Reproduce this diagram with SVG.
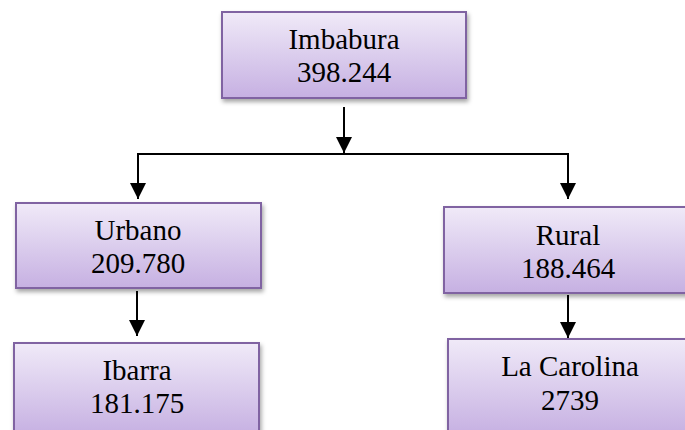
<svg xmlns="http://www.w3.org/2000/svg" width="685" height="430" viewBox="0 0 685 430">
  <style>
    .box { fill: url(#grad); stroke: #8064a2; stroke-width: 2; filter: url(#shadow); }
    .lbl { font-family: 'Liberation Serif', Tinos, 'Times New Roman', 'DejaVu Serif', serif; font-size: 29px; fill: #000; text-anchor: middle; }
    .conn { stroke: #000; stroke-width: 2; fill: none; }
  </style>
  <defs>
    <linearGradient id="grad" x1="0" y1="0" x2="0" y2="1">
      <stop offset="0" stop-color="#f0eaf8"/>
      <stop offset="1" stop-color="#c6b0e2"/>
    </linearGradient>
    <filter id="shadow" x="-10%" y="-10%" width="130%" height="140%">
      <feDropShadow dx="1.5" dy="3" stdDeviation="2" flood-color="#000" flood-opacity="0.35"/>
    </filter>
    <marker id="arrow" viewBox="0 0 10 10" refX="10" refY="5" markerWidth="16" markerHeight="16" markerUnits="userSpaceOnUse" orient="auto">
      <path d="M0,0 L10,5 L0,10 z" fill="#000"/>
    </marker>
  </defs>

  <g id="connectors">
    <line class="conn" x1="344" y1="107" x2="344" y2="153" marker-end="url(#arrow)"/>
    <line class="conn" x1="137" y1="154" x2="569" y2="154" stroke-width="1.5"/>
    <line class="conn" x1="138" y1="154" x2="138" y2="199" marker-end="url(#arrow)"/>
    <line class="conn" x1="568" y1="154" x2="568" y2="199" marker-end="url(#arrow)"/>
    <line class="conn" x1="137" y1="291" x2="137" y2="336" marker-end="url(#arrow)"/>
    <line class="conn" x1="568" y1="295" x2="568" y2="338" marker-end="url(#arrow)"/>
  </g>

  <g id="imbabura">
    <rect class="box" x="222" y="12" width="244" height="86"/>
    <text class="lbl" x="344" y="49">Imbabura</text>
    <text class="lbl" x="344" y="82">398.244</text>
  </g>

  <g id="urbano">
    <rect class="box" x="16" y="203" width="245" height="85"/>
    <text class="lbl" x="138" y="240">Urbano</text>
    <text class="lbl" x="138" y="273">209.780</text>
  </g>

  <g id="rural">
    <rect class="box" x="444" y="207" width="248" height="86"/>
    <text class="lbl" x="568" y="245">Rural</text>
    <text class="lbl" x="568" y="278">188.464</text>
  </g>

  <g id="ibarra">
    <rect class="box" x="14" y="343" width="245" height="92"/>
    <text class="lbl" x="137" y="380">Ibarra</text>
    <text class="lbl" x="137" y="413">181.175</text>
  </g>

  <g id="lacarolina">
    <rect class="box" x="448" y="339" width="244" height="96"/>
    <text class="lbl" x="570" y="376">La Carolina</text>
    <text class="lbl" x="570" y="410">2739</text>
  </g>
</svg>
